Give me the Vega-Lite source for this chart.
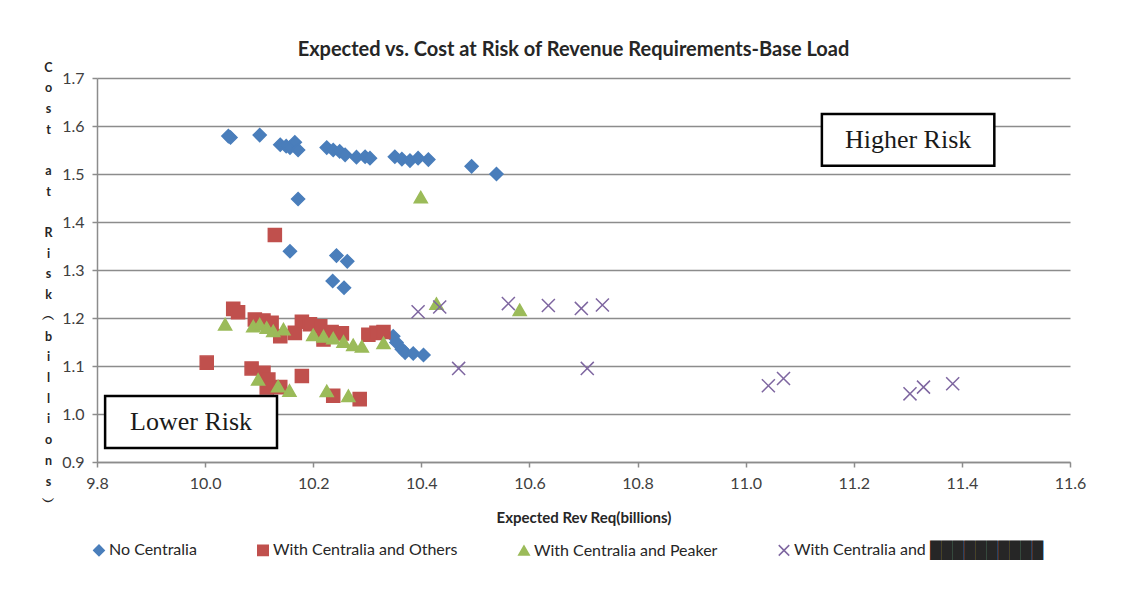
{
  "$schema": "https://vega.github.io/schema/vega-lite/v6.json",
  "autosize": "none",
  "width": 973,
  "height": 384,
  "padding": {"top": 78, "left": 97, "right": 56, "bottom": 131},
  "background": "white",
  "title": {
    "text": "Expected vs. Cost at Risk of Revenue Requirements-Base Load",
    "font": "Liberation Sans Narrow, Lato, sans-serif",
    "fontSize": 20,
    "fontWeight": "bold",
    "color": "#262626",
    "baseline": "alphabetic",
    "offset": 29,
    "dx": -10,
    "dy": 44
  },
  "datasets": {
    "pts": [
      {"series": "No Centralia", "x": 10.043, "y": 1.579},
      {"series": "No Centralia", "x": 10.047, "y": 1.576},
      {"series": "No Centralia", "x": 10.101, "y": 1.581},
      {"series": "No Centralia", "x": 10.139, "y": 1.561},
      {"series": "No Centralia", "x": 10.150, "y": 1.558},
      {"series": "No Centralia", "x": 10.157, "y": 1.555},
      {"series": "No Centralia", "x": 10.166, "y": 1.566},
      {"series": "No Centralia", "x": 10.172, "y": 1.550},
      {"series": "No Centralia", "x": 10.225, "y": 1.555},
      {"series": "No Centralia", "x": 10.237, "y": 1.550},
      {"series": "No Centralia", "x": 10.249, "y": 1.547},
      {"series": "No Centralia", "x": 10.259, "y": 1.540},
      {"series": "No Centralia", "x": 10.280, "y": 1.535},
      {"series": "No Centralia", "x": 10.296, "y": 1.536},
      {"series": "No Centralia", "x": 10.305, "y": 1.533},
      {"series": "No Centralia", "x": 10.351, "y": 1.536},
      {"series": "No Centralia", "x": 10.364, "y": 1.531},
      {"series": "No Centralia", "x": 10.379, "y": 1.528},
      {"series": "No Centralia", "x": 10.394, "y": 1.533},
      {"series": "No Centralia", "x": 10.413, "y": 1.530},
      {"series": "No Centralia", "x": 10.493, "y": 1.516},
      {"series": "No Centralia", "x": 10.539, "y": 1.500},
      {"series": "No Centralia", "x": 10.172, "y": 1.448},
      {"series": "No Centralia", "x": 10.157, "y": 1.339},
      {"series": "No Centralia", "x": 10.243, "y": 1.330},
      {"series": "No Centralia", "x": 10.263, "y": 1.318},
      {"series": "No Centralia", "x": 10.236, "y": 1.277},
      {"series": "No Centralia", "x": 10.257, "y": 1.263},
      {"series": "No Centralia", "x": 10.348, "y": 1.162},
      {"series": "No Centralia", "x": 10.354, "y": 1.149},
      {"series": "No Centralia", "x": 10.364, "y": 1.135},
      {"series": "No Centralia", "x": 10.370, "y": 1.128},
      {"series": "No Centralia", "x": 10.385, "y": 1.126},
      {"series": "No Centralia", "x": 10.404, "y": 1.123},
      {"series": "With Centralia and Others", "x": 10.129, "y": 1.373},
      {"series": "With Centralia and Others", "x": 10.052, "y": 1.219},
      {"series": "With Centralia and Others", "x": 10.061, "y": 1.212},
      {"series": "With Centralia and Others", "x": 10.003, "y": 1.107},
      {"series": "With Centralia and Others", "x": 10.086, "y": 1.095},
      {"series": "With Centralia and Others", "x": 10.108, "y": 1.086},
      {"series": "With Centralia and Others", "x": 10.117, "y": 1.072},
      {"series": "With Centralia and Others", "x": 10.114, "y": 1.055},
      {"series": "With Centralia and Others", "x": 10.139, "y": 1.056},
      {"series": "With Centralia and Others", "x": 10.179, "y": 1.079},
      {"series": "With Centralia and Others", "x": 10.237, "y": 1.038},
      {"series": "With Centralia and Others", "x": 10.286, "y": 1.031},
      {"series": "With Centralia and Others", "x": 10.092, "y": 1.197},
      {"series": "With Centralia and Others", "x": 10.108, "y": 1.195},
      {"series": "With Centralia and Others", "x": 10.123, "y": 1.190},
      {"series": "With Centralia and Others", "x": 10.139, "y": 1.162},
      {"series": "With Centralia and Others", "x": 10.166, "y": 1.169},
      {"series": "With Centralia and Others", "x": 10.179, "y": 1.192},
      {"series": "With Centralia and Others", "x": 10.194, "y": 1.187},
      {"series": "With Centralia and Others", "x": 10.213, "y": 1.183},
      {"series": "With Centralia and Others", "x": 10.219, "y": 1.155},
      {"series": "With Centralia and Others", "x": 10.234, "y": 1.171},
      {"series": "With Centralia and Others", "x": 10.253, "y": 1.168},
      {"series": "With Centralia and Others", "x": 10.302, "y": 1.165},
      {"series": "With Centralia and Others", "x": 10.317, "y": 1.169},
      {"series": "With Centralia and Others", "x": 10.330, "y": 1.171},
      {"series": "With Centralia and Peaker", "x": 10.399, "y": 1.452},
      {"series": "With Centralia and Peaker", "x": 10.037, "y": 1.187},
      {"series": "With Centralia and Peaker", "x": 10.089, "y": 1.183},
      {"series": "With Centralia and Peaker", "x": 10.101, "y": 1.187},
      {"series": "With Centralia and Peaker", "x": 10.114, "y": 1.180},
      {"series": "With Centralia and Peaker", "x": 10.126, "y": 1.173},
      {"series": "With Centralia and Peaker", "x": 10.145, "y": 1.177},
      {"series": "With Centralia and Peaker", "x": 10.200, "y": 1.165},
      {"series": "With Centralia and Peaker", "x": 10.219, "y": 1.162},
      {"series": "With Centralia and Peaker", "x": 10.237, "y": 1.158},
      {"series": "With Centralia and Peaker", "x": 10.256, "y": 1.151},
      {"series": "With Centralia and Peaker", "x": 10.274, "y": 1.144},
      {"series": "With Centralia and Peaker", "x": 10.290, "y": 1.141},
      {"series": "With Centralia and Peaker", "x": 10.330, "y": 1.148},
      {"series": "With Centralia and Peaker", "x": 10.098, "y": 1.072},
      {"series": "With Centralia and Peaker", "x": 10.135, "y": 1.058},
      {"series": "With Centralia and Peaker", "x": 10.156, "y": 1.049},
      {"series": "With Centralia and Peaker", "x": 10.225, "y": 1.048},
      {"series": "With Centralia and Peaker", "x": 10.265, "y": 1.038},
      {"series": "With Centralia and Peaker", "x": 10.428, "y": 1.230},
      {"series": "With Centralia and Peaker", "x": 10.582, "y": 1.217},
      {"series": "With Centralia and ██████████", "x": 10.394, "y": 1.213},
      {"series": "With Centralia and ██████████", "x": 10.434, "y": 1.223},
      {"series": "With Centralia and ██████████", "x": 10.561, "y": 1.230},
      {"series": "With Centralia and ██████████", "x": 10.635, "y": 1.226},
      {"series": "With Centralia and ██████████", "x": 10.696, "y": 1.220},
      {"series": "With Centralia and ██████████", "x": 10.735, "y": 1.227},
      {"series": "With Centralia and ██████████", "x": 10.469, "y": 1.095},
      {"series": "With Centralia and ██████████", "x": 10.707, "y": 1.095},
      {"series": "With Centralia and ██████████", "x": 11.042, "y": 1.059},
      {"series": "With Centralia and ██████████", "x": 11.070, "y": 1.074},
      {"series": "With Centralia and ██████████", "x": 11.304, "y": 1.042},
      {"series": "With Centralia and ██████████", "x": 11.329, "y": 1.056},
      {"series": "With Centralia and ██████████", "x": 11.383, "y": 1.063}
    ],
    "boxes": [
      {"label": "Higher Risk", "x1": 11.141, "x2": 11.460, "y1": 1.517, "y2": 1.625},
      {"label": "Lower Risk", "x1": 9.815, "x2": 10.133, "y1": 0.929, "y2": 1.0375}
    ]
  },
  "layer": [
    {
      "data": {"name": "pts"},
      "mark": {"type": "point", "filled": true, "opacity": 1, "strokeWidth": 1.5, "size": 170},
      "encoding": {
        "x": {
          "field": "x", "type": "quantitative",
          "scale": {"domain": [9.8, 11.6], "zero": false, "nice": false},
          "axis": {
            "values": [9.8, 10.0, 10.2, 10.4, 10.6, 10.8, 11.0, 11.2, 11.4, 11.6],
            "format": ".1f",
            "grid": false,
            "labelFlush": false,
            "labelOverlap": false,
            "title": "Expected Rev Req(billions)",
            "titlePadding": 19
          }
        },
        "y": {
          "field": "y", "type": "quantitative",
          "scale": {"domain": [0.9, 1.7], "zero": false, "nice": false},
          "axis": {
            "values": [0.9, 1.0, 1.1, 1.2, 1.3, 1.4, 1.5, 1.6, 1.7],
            "format": ".1f",
            "grid": true,
            "labelFlush": false,
            "labelOverlap": false,
            "title": ["C","o","s","t","\u2800","a","t","\u2800","R","i","s","k","︵","b","i","l","l","i","o","n","s","︶"],
            "titleAngle": 0,
            "titleAlign": "center",
            "titleBaseline": "top",
            "titleX": -49,
            "titleY": -17,
            "titleFontSize": 12.5,
            "titleLineHeight": 20.7
          }
        },
        "fill": {
          "field": "series", "type": "nominal",
          "scale": {
            "domain": ["No Centralia", "With Centralia and Others", "With Centralia and Peaker", "With Centralia and ██████████"],
            "range": ["#4a7ebb", "#c0504d", "#9bbb59", "transparent"]
          },
          "legend": {"title": null}
        },
        "stroke": {
          "field": "series", "type": "nominal",
          "scale": {
            "domain": ["No Centralia", "With Centralia and Others", "With Centralia and Peaker", "With Centralia and ██████████"],
            "range": ["#4a7ebb", "#c0504d", "#9bbb59", "#7e66a0"]
          },
          "legend": {"title": null}
        },
        "shape": {
          "field": "series", "type": "nominal",
          "scale": {
            "domain": ["No Centralia", "With Centralia and Others", "With Centralia and Peaker", "With Centralia and ██████████"],
            "range": ["diamond", "square", "triangle-up", "M-1,-1L1,1M1,-1L-1,1"]
          },
          "legend": {"title": null}
        }
      }
    },
    {
      "data": {"name": "boxes"},
      "mark": {"type": "rect", "fill": "white", "stroke": "black", "strokeWidth": 2.5},
      "encoding": {
        "x": {"field": "x1", "type": "quantitative"},
        "x2": {"field": "x2"},
        "y": {"field": "y1", "type": "quantitative"},
        "y2": {"field": "y2"}
      }
    },
    {
      "data": {"name": "boxes"},
      "transform": [
        {"calculate": "(datum.x1 + datum.x2) / 2", "as": "cx"},
        {"calculate": "(datum.y1 + datum.y2) / 2", "as": "cy"}
      ],
      "mark": {"type": "text", "font": "Liberation Serif", "fontSize": 26, "color": "#1a1a1a", "align": "center", "baseline": "middle"},
      "encoding": {
        "x": {"field": "cx", "type": "quantitative"},
        "y": {"field": "cy", "type": "quantitative"},
        "text": {"field": "label"}
      }
    }
  ],
  "config": {
    "font": "Liberation Sans Narrow, Lato, sans-serif",
    "view": {"stroke": null},
    "axis": {
      "domainColor": "#8c8c8c",
      "domainWidth": 1.5,
      "tickColor": "#8c8c8c",
      "tickWidth": 1.5,
      "tickSize": 5,
      "gridColor": "#8c8c8c",
      "gridWidth": 1.5,
      "labelFont": "Liberation Sans Narrow, Lato, sans-serif",
      "labelFontSize": 16,
      "labelColor": "#404040",
      "labelPadding": 8,
      "titleFont": "Liberation Sans Narrow, Lato, sans-serif",
      "titleFontSize": 15,
      "titleFontWeight": "bold",
      "titleColor": "#262626"
    },
    "legend": {
      "orient": "none",
      "legendX": -6,
      "legendY": 464,
      "direction": "horizontal",
      "columns": 4,
      "columnPadding": 57,
      "padding": 0,
      "symbolSize": 110,
      "symbolStrokeWidth": 1.5,
      "labelFont": "Liberation Sans Narrow, Lato, sans-serif",
      "labelFontSize": 16,
      "labelColor": "#262626",
      "labelOffset": 2,
      "labelLimit": 0,
      "symbolOpacity": 1
    }
  }
}
